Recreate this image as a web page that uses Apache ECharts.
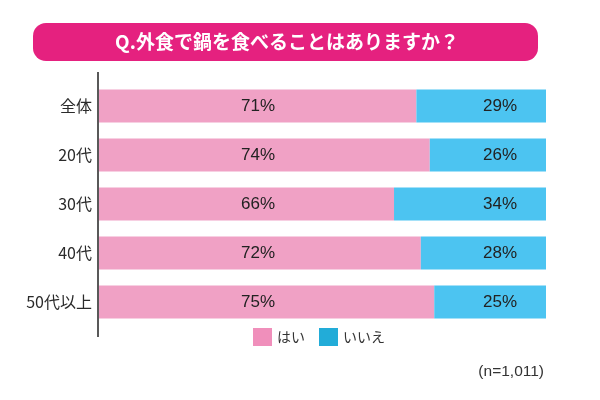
<!DOCTYPE html>
<html>
<head>
<meta charset="utf-8">
<script src="https://cdn.jsdelivr.net/npm/echarts@6/dist/echarts.min.js"></script>
<style>html,body{margin:0;padding:0;background:#fff}#c{width:600px;height:400px}</style>
</head>
<body>
<div id="c"></div>
<script>
const categories = ['全体', '20代', '30代', '40代', '50代以上'];
const yesValues = [71, 74, 66, 72, 75];
const noValues = [29, 26, 34, 28, 25];
const seriesNames = ['はい', 'いいえ'];
const titleText = 'Q.外食で鍋を食べることはありますか？';
const noteText = '(n=1,011)';

const chart = echarts.init(document.getElementById('c'));
const numFont = "'Liberation Sans Narrow', 'Liberation Sans', sans-serif";
const jpFont = "'Noto Sans CJK JP', sans-serif";
chart.setOption({
  animation: false,
  grid: { left: 99, right: 54, top: 81.5, height: 245, containLabel: false },
  xAxis: { type: 'value', min: 0, max: 100, show: false },
  yAxis: {
    type: 'category', data: categories, inverse: true,
    axisLine: { show: false }, axisTick: { show: false },
    axisLabel: { margin: 7, fontSize: 16, color: '#2a2a2a', fontFamily: jpFont }
  },
  legend: {
    left: 248, top: 323, itemWidth: 19, itemHeight: 18, itemGap: 14,
    icon: 'rect',
    textStyle: { fontSize: 14, color: '#333', fontFamily: jpFont },
    data: [
      { name: seriesNames[0], itemStyle: { color: '#f08fbb' } },
      { name: seriesNames[1], itemStyle: { color: '#22acd8' } }
    ]
  },
  series: [
    {
      name: seriesNames[0], type: 'bar', stack: 's', data: yesValues, barWidth: 33,
      itemStyle: { color: '#f0a1c5' },
      label: { show: true, position: [159, '50%'], align: 'center', verticalAlign: 'middle',
        formatter: '{c}%', fontSize: 17, color: '#222', fontFamily: numFont }
    },
    {
      name: seriesNames[1], type: 'bar', stack: 's', data: noValues, barWidth: 33,
      itemStyle: { color: '#4cc4f1' },
      label: { show: true, position: 'insideRight', distance: 29,
        formatter: '{c}%', fontSize: 17, color: '#222', fontFamily: numFont }
    }
  ],
  graphic: [
    { type: 'rect', shape: { x: 33, y: 23, width: 505, height: 38, r: 13 }, style: { fill: '#e5217f' } },
    { type: 'text', x: 287, y: 42, style: { text: titleText, fill: '#fff', fontSize: 19, fontWeight: 'bold',
        fontFamily: jpFont, align: 'center', verticalAlign: 'middle' } },
    { type: 'line', shape: { x1: 98, y1: 72, x2: 98, y2: 337 }, style: { stroke: '#222', lineWidth: 1.5 } },
    { type: 'text', x: 544, y: 372, style: { text: noteText, fill: '#333', fontSize: 15.5,
        fontFamily: "'Liberation Sans', sans-serif", align: 'right', verticalAlign: 'middle' } }
  ]
});
</script>
</body>
</html>
